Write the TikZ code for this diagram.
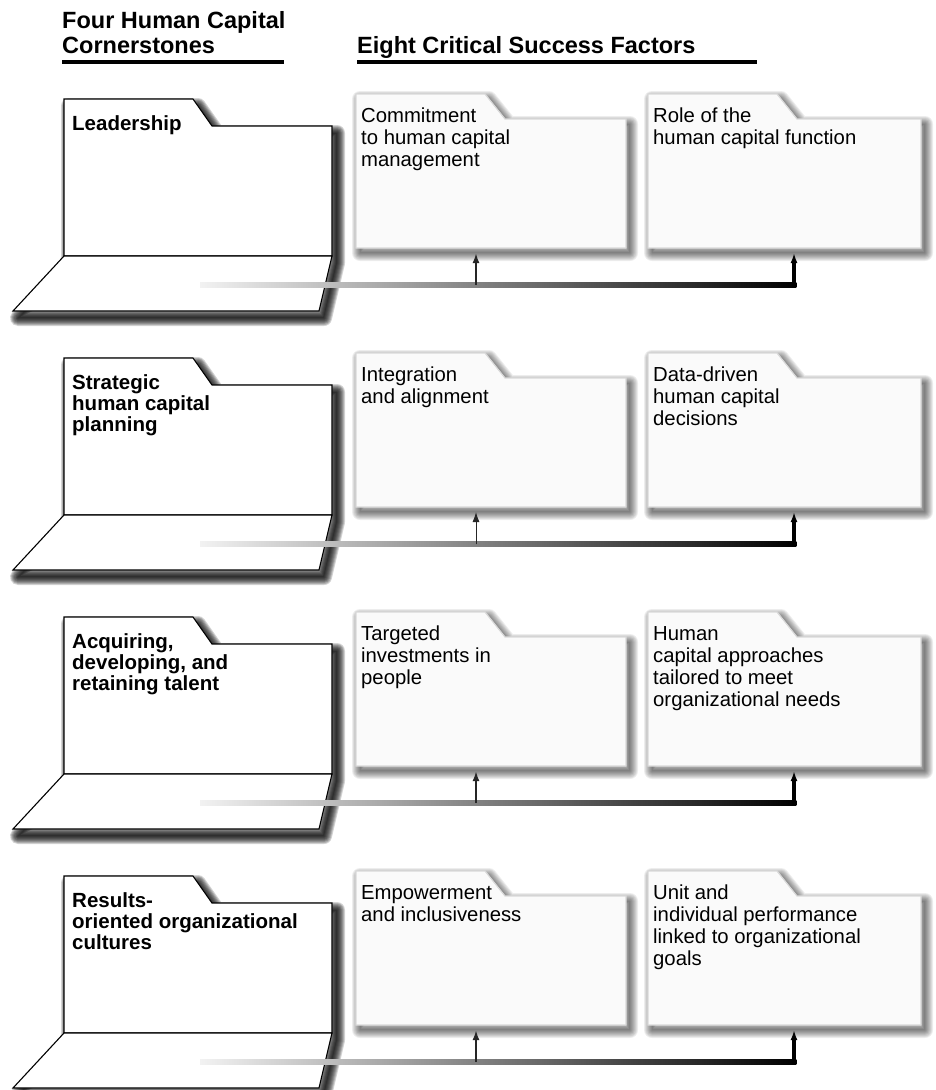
\documentclass[tikz,border=0pt]{standalone}
\usepackage{fontspec}
\setmainfont{Liberation Sans}
\usetikzlibrary{arrows.meta}

\newcommand\toplines[1]{\parbox[t]{400pt}{\raggedright #1}}

\tikzset{
  lfold/.style={draw=black, line width=1.1pt, fill=white, line join=miter},
  rfold/.style={draw=black!15, line width=1.2pt, fill=black!2, line join=miter},
  ltext/.style={anchor=base west, inner sep=0pt, font=\fontsize{20.5}{21}\selectfont\bfseries},
  rtext/.style={anchor=base west, inner sep=0pt, font=\fontsize{20.3}{22}\selectfont},
  htext/.style={anchor=base west, inner sep=0pt, font=\fontsize{23.5}{25}\selectfont\bfseries},
  conn/.style={-{Latex[length=10pt,width=7pt]}, shorten >=5pt},
  rule/.style={line width=4.5pt},
}

% soft shadow: #1 path, #2 xshift, #3 yshift, #4 opacity per layer
\newcommand\softshadow[4]{%
  \begin{scope}[shift={(#2,#3)}]
    \foreach \w in {16,14,12,10,8,6,4,2}{%
      \draw[black, opacity=#4, line width=\w pt, line join=round] #1;
    }
    \fill[black, opacity=#4] #1;
  \end{scope}}

% right folder: #1 name, #2 x0, #3 y0, #4 width, #5 text
\newcommand\rfolder[5]{%
  \softshadow{(#2,#3) -- ++(129,0) -- ++(20,25) -- (#2+#4,#3+25) -- (#2+#4,#3+154) -- (#2,#3+154) -- cycle}{4}{5}{0.07}
  \draw[rfold] (#2,#3) -- ++(129,0) -- ++(20,25) -- (#2+#4,#3+25) -- (#2+#4,#3+154) -- (#2,#3+154) -- cycle;
  \node[rtext] (#1) at (#2+5,#3+28) {\toplines{#5}};
}

% left folder: #1 name, #2 y0, #3 text
\newcommand\lfolder[3]{%
  \softshadow{(64,#2) -- (193,#2) -- (212,#2+27) -- (332,#2+27) -- (332,#2+157) -- (319,#2+212) -- (13,#2+212) -- (64,#2+157) -- cycle}{5}{7}{0.17}
  \draw[lfold] (64,#2) -- (193,#2) -- (212,#2+27) -- (332,#2+27) -- (332,#2+157) -- (64,#2+157) -- cycle;
  \draw[lfold] (64,#2+157) -- (332,#2+157) -- (319,#2+212) -- (13,#2+212) -- cycle;
  \node[ltext] (#1) at (72,#2+31) {\toplines{#3}};
}

% one row: #1 index, #2 y0, #3 left text, #4 first factor, #5 second factor, #6 thin arrow width
\newcommand\hcrow[6]{%
  \lfolder{L#1}{#2}{#3}
  \rfolder{A#1}{356}{#2-5}{270}{#4}
  \rfolder{B#1}{648}{#2-5}{273}{#5}
  \coordinate (s#1) at (200,#2+186);
  \coordinate (j#1) at (476,#2+186);
  \coordinate (e#1) at (794,#2+186);
  \coordinate (ta#1) at (476,#2+149);
  \coordinate (tb#1) at (794,#2+149);
  \shade[left color=black!5, right color=black] ([yshift=2.25pt]s#1) rectangle ([yshift=-2.25pt,xshift=2.25pt]e#1);
  \draw[conn, line width=#6, draw=black!85, fill=black!85] (j#1) -- (ta#1);
  \draw[conn, line width=4.5pt] ([yshift=-2.25pt]e#1) -- (tb#1);
}

\begin{document}
\begin{tikzpicture}[x=1pt,y=-1pt]
  \useasboundingbox (0,0) rectangle (935,1090);
  \fill[white] (0,0) rectangle (935,1090);

  % headers
  \node[htext] (h1) at (62,28) {\toplines{Four Human Capital\\Cornerstones}};
  \node[htext] (h2) at (357,53) {Eight Critical Success Factors};
  \draw[rule] (62,62) -- (284,62);
  \draw[rule] (357,62) -- (757,62);

  \hcrow{1}{99}{Leadership}{Commitment\\to human capital\\management}{Role of the\\human capital function}{2pt}
  \hcrow{2}{358}{Strategic\\human capital\\planning}{Integration\\and alignment}{Data-driven\\human capital\\decisions}{1pt}
  \hcrow{3}{617}{Acquiring,\\developing, and\\retaining talent}{Targeted\\investments in\\people}{Human\\capital approaches\\tailored to meet\\organizational needs}{2pt}
  \hcrow{4}{876}{Results-\\oriented organizational\\cultures}{Empowerment\\and inclusiveness}{Unit and\\individual performance\\linked to organizational\\goals}{2pt}
\end{tikzpicture}
\end{document}
